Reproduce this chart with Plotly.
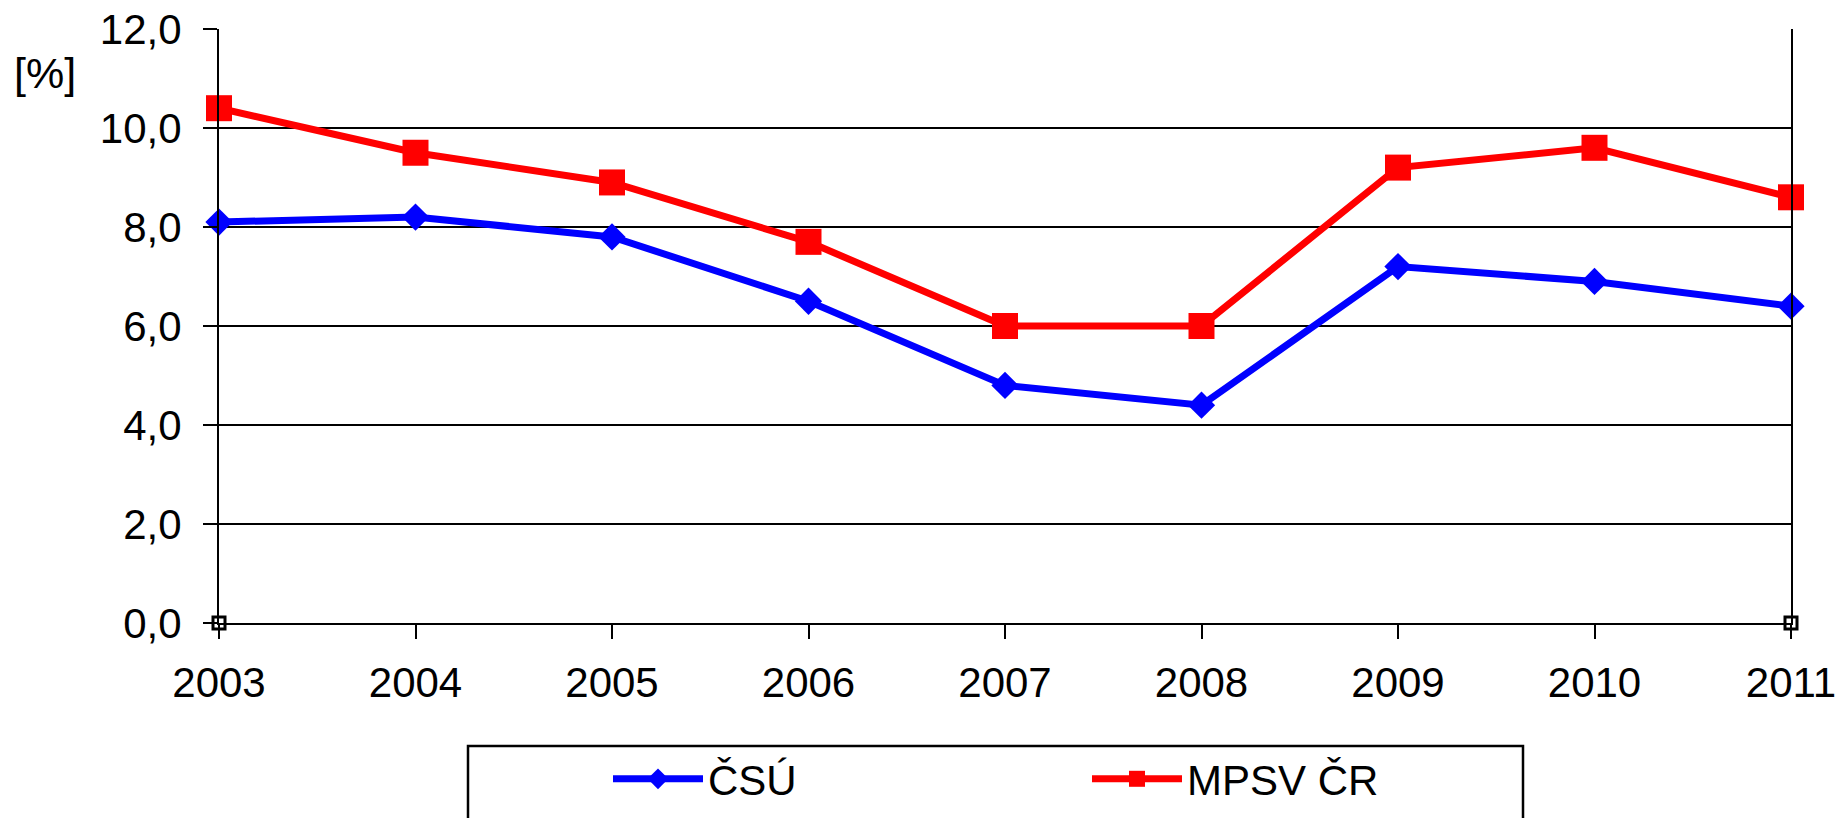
import plotly.graph_objects as go

years = [2003, 2004, 2005, 2006, 2007, 2008, 2009, 2010, 2011]
csu = [8.1, 8.2, 7.8, 6.5, 4.8, 4.4, 7.2, 6.9, 6.4]
mpsv = [10.4, 9.5, 8.9, 7.7, 6.0, 6.0, 9.2, 9.6, 8.6]
series_names = ["ČSÚ", "MPSV ČR"]
corner_x = [2003, 2011]
corner_y = [0, 0]
y_ticks = [0, 2, 4, 6, 8, 10, 12]
unit_label = "[%]"

FONT = "Liberation Sans, Arial, sans-serif"

W, H = 1847, 818
L, R, T, B = 219, 56, 29, 195
PW = W - L - R
PH = H - T - B


def px(xf):
    return (xf - L) / PW


def py(yf):
    return (H - B - yf) / PH


fig = go.Figure()
fig.add_trace(go.Scatter(
    x=years, y=csu, name=series_names[0], mode="lines+markers",
    line=dict(color="#0000FF", width=7),
    marker=dict(symbol="diamond", size=21, color="#0000FF"),
    cliponaxis=False,
))
fig.add_trace(go.Scatter(
    x=years, y=mpsv, name=series_names[1], mode="lines+markers",
    line=dict(color="#FF0000", width=7),
    marker=dict(symbol="square", size=26, color="#FF0000"),
    cliponaxis=False,
))
fig.add_trace(go.Scatter(
    x=corner_x, y=corner_y, mode="markers", showlegend=False, hoverinfo="skip",
    marker=dict(symbol="square-open", size=12, color="black", line=dict(width=3, color="black")),
    cliponaxis=False,
))

fig.update_layout(
    width=W, height=H,
    margin=dict(l=L, r=R, t=T, b=B, autoexpand=False),
    paper_bgcolor="white", plot_bgcolor="white",
    separators=", ",
    font=dict(family=FONT, size=42, color="black"),
    showlegend=True,
    legend=dict(
        orientation="h", x=px(608), xanchor="left", y=py(779), yanchor="middle",
        font=dict(family=FONT, size=42, color="black"),
        entrywidth=374, entrywidthmode="pixels", itemwidth=90,
        borderwidth=0, bgcolor="rgba(0,0,0,0)",
    ),
    shapes=[dict(
        type="rect", xref="paper", yref="paper",
        x0=px(468), x1=px(1523),
        y0=py(746), y1=py(822),
        line=dict(color="black", width=2.5), fillcolor="rgba(0,0,0,0)",
    )],
    annotations=[dict(
        text=unit_label, xref="paper", yref="paper",
        x=px(12), y=py(73), xanchor="left", yanchor="middle",
        showarrow=False, font=dict(family=FONT, size=43, color="black"),
    )],
)

fig.update_xaxes(
    range=[2003, 2011], tickmode="array", tickvals=years, ticktext=[str(y) for y in years],
    showgrid=False, zeroline=False,
    showline=True, linecolor="black", linewidth=2, mirror=False,
    ticks="outside", ticklen=14, tickwidth=2, tickcolor="black",
    tickfont=dict(family=FONT, size=42, color="black"),
    ticklabelstandoff=8, ticklabeloverflow="allow",
)
fig.update_yaxes(
    range=[0, 12], tickmode="array", tickvals=y_ticks, tickformat=".1f",
    showgrid=True, gridcolor="black", gridwidth=2, zeroline=False,
    showline=True, linecolor="black", linewidth=2, mirror=True,
    ticks="outside", ticklen=14, tickwidth=2, tickcolor="black",
    tickfont=dict(family=FONT, size=42, color="black"),
    ticklabelstandoff=13, ticklabeloverflow="allow",
)

fig.write_html(
    "out.html",
    config={"displayModeBar": False},
    post_script="document.body.style.margin='0';",
)
